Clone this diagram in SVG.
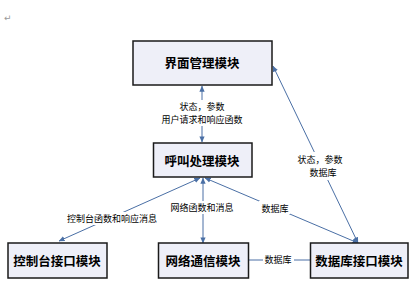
<svg xmlns="http://www.w3.org/2000/svg" width="418" height="291" viewBox="0 0 418 291">
<style>
.box{fill:#eeeff8;stroke:#1a1a1a;stroke-width:1.5}
.title{font-family:"Noto Sans CJK SC","Noto Sans CJK JP",sans-serif;font-size:12.5px;font-weight:bold;fill:#000;text-anchor:middle;dominant-baseline:central}
.lbl{font-family:"Noto Sans CJK SC","Noto Sans CJK JP",sans-serif;font-size:9px;fill:#000;text-anchor:middle;dominant-baseline:central}
.ln{stroke:#4a6fa5;stroke-width:1;fill:none}
.bg{fill:#fff}
</style>
<defs>
<marker id="ah" viewBox="0 0 8 8" refX="7.5" refY="4" markerWidth="6" markerHeight="6" orient="auto-start-reverse" markerUnits="userSpaceOnUse">
<path d="M0,0.5 L8,4 L0,7.5 Z" fill="#4a6fa5"/>
</marker>
</defs>
<rect width="418" height="291" fill="#fff"/>
<text x="4" y="21" font-family="DejaVu Sans,sans-serif" font-size="9" fill="#999">↵</text>
<g id="connectors">
<line class="ln" x1="202" y1="86" x2="202" y2="142" marker-start="url(#ah)" marker-end="url(#ah)"/>
<rect class="bg" x="155" y="100" width="95" height="26"/>
<text class="lbl" x="202" y="106.5">状态，参数</text>
<text class="lbl" x="202" y="119.5">用户请求和响应函数</text>
<line class="ln" x1="200" y1="178" x2="59" y2="241" marker-start="url(#ah)" marker-end="url(#ah)"/>
<rect class="bg" x="63" y="212" width="99" height="13"/>
<text class="lbl" x="112" y="218">控制台函数和响应消息</text>
<line class="ln" x1="203" y1="178" x2="203" y2="243" marker-start="url(#ah)" marker-end="url(#ah)"/>
<rect class="bg" x="167" y="201" width="70" height="13"/>
<text class="lbl" x="202" y="207">网络函数和消息</text>
<line class="ln" x1="205" y1="178" x2="358" y2="243" marker-start="url(#ah)" marker-end="url(#ah)"/>
<rect class="bg" x="259" y="201" width="31" height="13"/>
<text class="lbl" x="275" y="208">数据库</text>
<line class="ln" x1="273" y1="66" x2="358" y2="243" marker-start="url(#ah)" marker-end="url(#ah)"/>
<rect class="bg" x="295" y="152" width="50" height="28"/>
<text class="lbl" x="320" y="159.5">状态，参数</text>
<text class="lbl" x="323" y="172.5">数据库</text>
<line class="ln" x1="248" y1="260" x2="310" y2="260"/>
<rect class="bg" x="263" y="253" width="31" height="13"/>
<text class="lbl" x="278" y="259">数据库</text>
</g>
<g id="n-ui">
<rect class="box" x="133" y="41" width="139" height="44"/>
<text class="title" x="202" y="62">界面管理模块</text>
</g>
<g id="n-call">
<rect class="box" x="153.5" y="143" width="98.5" height="34"/>
<text class="title" x="202" y="160">呼叫处理模块</text>
</g>
<g id="n-console">
<rect class="box" x="8" y="243" width="99" height="35"/>
<text class="title" x="57" y="260">控制台接口模块</text>
</g>
<g id="n-net">
<rect class="box" x="158.5" y="243" width="90" height="35"/>
<text class="title" x="203" y="260">网络通信模块</text>
</g>
<g id="n-db">
<rect class="box" x="310.5" y="243" width="97.5" height="35"/>
<text class="title" x="359" y="260">数据库接口模块</text>
</g>
</svg>
